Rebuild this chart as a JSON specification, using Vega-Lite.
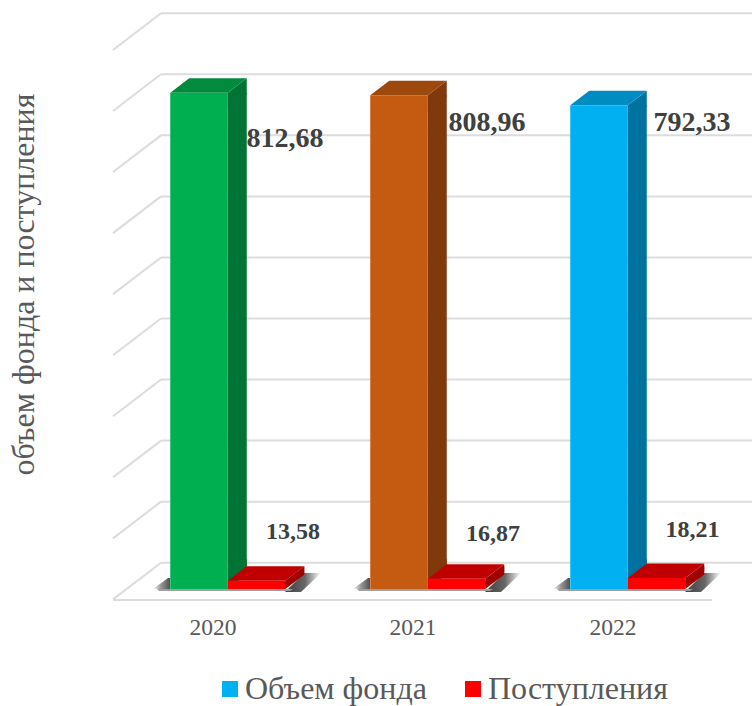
{
"$schema":"https://vega.github.io/schema/vega-lite/v6.json",
"width":600,"height":589,
"autosize":{"type":"none"},
"padding":{"left":113,"top":0,"right":39,"bottom":117},
"background":"white",
"config":{"view":{"stroke":null}},
"datasets":{
"levels":[{"level":0},{"level":100},{"level":200},{"level":300},{"level":400},{"level":500},{"level":600},{"level":700},{"level":800},{"level":900}],
"bars":[
{"year":"2020","series":"Объем фонда","value":812.68,"label":"812,68"},
{"year":"2021","series":"Объем фонда","value":808.96,"label":"808,96"},
{"year":"2022","series":"Объем фонда","value":792.33,"label":"792,33"},
{"year":"2020","series":"Поступления","value":13.58,"label":"13,58"},
{"year":"2021","series":"Поступления","value":16.87,"label":"16,87"},
{"year":"2022","series":"Поступления","value":18.21,"label":"18,21"}
]},
"data":{"name":"bars"},
"encoding":{
"x":{"field":"year","type":"nominal","title":null,"scale":{"domain":["2020","2021","2022"],"paddingInner":0,"paddingOuter":0},
"axis":{"labelAngle":0,"domain":false,"ticks":false,"grid":false,"labelFont":"Liberation Serif","labelFontSize":23.5,"labelColor":"#595959","labelPadding":26}},
"y":{"field":"value","type":"quantitative","title":"объем фонда и поступления","scale":{"domain":[0,964.8],"nice":false,"zero":false},
"axis":{"title":"объем фонда и поступления","labels":false,"domain":false,"ticks":false,"grid":false,"titleFont":"Liberation Serif","titleFontSize":32,"titleFontWeight":"normal","titleColor":"#595959","titleX":-73,"titleY":284}}
},
"layer":[
{"data":{"name":"levels"},"mark":{"type":"rule","color":"#dcdcdc","strokeWidth":2,"yOffset":-26.3,"xOffset":-52,"x2Offset":139},
 "encoding":{"y":{"field":"level","type":"quantitative","title":"объем фонда и поступления"},"x":{"datum":"2020"},"x2":{"datum":"2022"}}},
{"data":{"name":"levels"},"mark":{"type":"point","shape":"M0,0L-48,36.7","filled":false,"stroke":"#dcdcdc","strokeWidth":2,"size":4,"opacity":1,"yOffset":-26.3,"xOffset":-52},
 "encoding":{"y":{"field":"level","type":"quantitative","title":"объем фонда и поступления"},"x":{"datum":"2020"}}},
{"data":{"values":[{"level":0}]},"mark":{"type":"rule","color":"#dcdcdc","strokeWidth":2,"yOffset":11,"xOffset":-100,"x2Offset":99},
 "encoding":{"y":{"field":"level","type":"quantitative","title":"объем фонда и поступления"},"x":{"datum":"2020"},"x2":{"datum":"2022"}}},
{"transform":[{"filter":"datum.series=='Объем фонда'"}],"mark":{"type":"point","shape":"M-60,0L-43,0L-43,-11L-45,-11Z","filled":true,"size":4,"opacity":1,"strokeWidth":0,
 "fill":{"gradient":"linear","x1":0,"y1":0,"x2":1,"y2":0,"stops":[{"offset":0,"color":"#ffffff"},{"offset":0.4,"color":"#a0a0a0"},{"offset":1,"color":"#505050"}]}},
 "encoding":{"y":{"datum":0,"title":"объем фонда и поступления"}}},
{"transform":[{"filter":"datum.series=='Поступления'"}],"mark":{"type":"point","shape":"M72,3L91,-16L108,-16L88,3Z","filled":true,"size":4,"opacity":1,"strokeWidth":0,
 "fill":{"gradient":"linear","x1":0,"y1":0,"x2":1,"y2":0,"stops":[{"offset":0,"color":"#404040"},{"offset":0.55,"color":"#666666"},{"offset":1,"color":"#ffffff"}]}},
 "encoding":{"y":{"datum":0,"title":"объем фонда и поступления"}}},
{"transform":[{"filter":"datum.series=='Поступления'"}],"mark":{"type":"point","shape":"M-56,0L80,0L77,2L-54,2Z","filled":true,"size":4,"opacity":1,"strokeWidth":0,"fill":"#a0a0a0"},
 "encoding":{"y":{"datum":0,"title":"объем фонда и поступления"}}},
{"transform":[{"filter":"datum.series=='Объем фонда'"}],"mark":{"type":"bar","size":19,"xOffset":24.25,"y2Offset":-14.5},
 "encoding":{"y2":{"datum":0},"color":{"condition":[{"test":"datum.year=='2020'","value":"#007434"},{"test":"datum.year=='2021'","value":"#80390B"}],"value":"#00729F"}}},
{"transform":[{"filter":"datum.series=='Объем фонда'"}],"mark":{"type":"point","shape":"M14.75,0L33.75,-14.5L33.75,1.5L14.75,16Z","filled":true,"size":4,"opacity":1,"strokeWidth":0},
 "encoding":{"color":{"condition":[{"test":"datum.year=='2020'","value":"#007434"},{"test":"datum.year=='2021'","value":"#80390B"}],"value":"#00729F"}}},
{"transform":[{"filter":"datum.series=='Объем фонда'"}],"mark":{"type":"point","shape":"M14.75,0L33.75,-14.5L33.75,-30.5L14.75,-16Z","filled":true,"size":4,"opacity":1,"strokeWidth":0},
 "encoding":{"y":{"datum":0,"title":"объем фонда и поступления"},"color":{"condition":[{"test":"datum.year=='2020'","value":"#007434"},{"test":"datum.year=='2021'","value":"#80390B"}],"value":"#00729F"}}},
{"transform":[{"filter":"datum.series=='Объем фонда'"}],"mark":{"type":"point","shape":"M-42.75,0L14.75,0L33.75,-14.5L-23.75,-14.5Z","filled":true,"size":4,"opacity":1,"strokeWidth":0},
 "encoding":{"color":{"condition":[{"test":"datum.year=='2020'","value":"#008A3D"},{"test":"datum.year=='2021'","value":"#9D480D"}],"value":"#008CC0"}}},
{"transform":[{"filter":"datum.series=='Поступления'"}],"mark":{"type":"point","shape":"M72.25,0L91.25,-14.5L91.25,-6.5L72.25,8Z","filled":true,"size":4,"opacity":1,"strokeWidth":0,"fill":"#A00000"}},
{"transform":[{"filter":"datum.series=='Поступления'"}],"mark":{"type":"point","shape":"M72.25,0L91.25,-14.5L91.25,-22.5L72.25,-8Z","filled":true,"size":4,"opacity":1,"strokeWidth":0,"fill":"#A00000"},
 "encoding":{"y":{"datum":0,"title":"объем фонда и поступления"}}},
{"transform":[{"filter":"datum.series=='Поступления'"}],"mark":{"type":"point","shape":"M14.75,0L72.25,0L91.25,-14.5L33.75,-14.5Z","filled":true,"size":4,"opacity":1,"strokeWidth":0,"fill":"#C00000"}},
{"transform":[{"filter":"datum.series=='Объем фонда'"}],"mark":{"type":"bar","size":57.5,"xOffset":-14},
 "encoding":{"y2":{"datum":0},"color":{"condition":[{"test":"datum.year=='2020'","value":"#00B050"},{"test":"datum.year=='2021'","value":"#C55A11"}],
  "field":"series","type":"nominal","scale":{"domain":["Объем фонда","Поступления"],"range":["#00B0F0","#FF0000"]},
  "legend":{"orient":"none","legendX":101,"legendY":673,"direction":"horizontal","title":null,"symbolType":"square","symbolSize":256,"symbolStrokeWidth":0,"symbolOpacity":1,"labelFont":"Liberation Serif","labelFontSize":32,"labelColor":"#595959","labelOffset":-1,"columnPadding":30,"labelLimit":300}}}},
{"transform":[{"filter":"datum.series=='Поступления'"}],"mark":{"type":"bar","size":57.5,"xOffset":43.5},
 "encoding":{"y2":{"datum":0},"color":{"field":"series","type":"nominal"}}},
{"transform":[{"filter":"datum.label=='812,68'"}],"mark":{"type":"text","font":"Liberation Serif","fontWeight":"bold","fontSize":28,"color":"#404040","xOffset":72,"yOffset":46.5},"encoding":{"text":{"field":"label"}}},
{"transform":[{"filter":"datum.label=='808,96'"}],"mark":{"type":"text","font":"Liberation Serif","fontWeight":"bold","fontSize":28,"color":"#404040","xOffset":74,"yOffset":28},"encoding":{"text":{"field":"label"}}},
{"transform":[{"filter":"datum.label=='792,33'"}],"mark":{"type":"text","font":"Liberation Serif","fontWeight":"bold","fontSize":28,"color":"#404040","xOffset":79,"yOffset":18},"encoding":{"text":{"field":"label"}}},
{"transform":[{"filter":"datum.label=='13,58'"}],"mark":{"type":"text","font":"Liberation Serif","fontWeight":"bold","fontSize":24,"color":"#404040","xOffset":80,"yOffset":-49},"encoding":{"text":{"field":"label"}}},
{"transform":[{"filter":"datum.label=='16,87'"}],"mark":{"type":"text","font":"Liberation Serif","fontWeight":"bold","fontSize":24,"color":"#404040","xOffset":80,"yOffset":-45},"encoding":{"text":{"field":"label"}}},
{"transform":[{"filter":"datum.label=='18,21'"}],"mark":{"type":"text","font":"Liberation Serif","fontWeight":"bold","fontSize":24,"color":"#404040","xOffset":79.5,"yOffset":-48},"encoding":{"text":{"field":"label"}}}
]
}
